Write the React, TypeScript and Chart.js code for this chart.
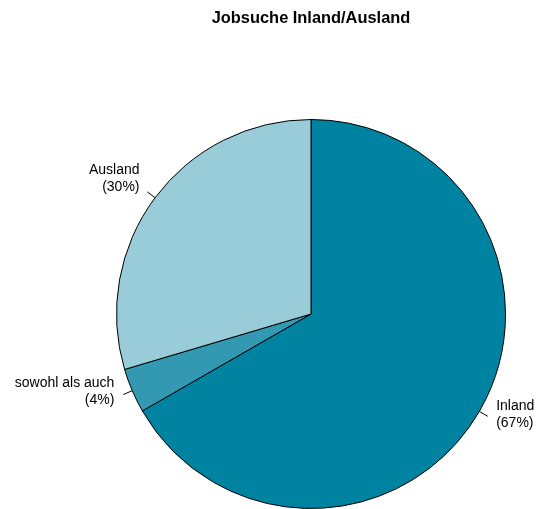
import React, { useEffect, useRef } from "react";
import { Chart, registerables } from "chart.js";

Chart.register(...registerables);

const title = "Jobsuche Inland/Ausland";
const categories = ["Inland", "sowohl als auch", "Ausland"];
const values = [66.7, 3.7, 29.6];
const colors = ["#0083a0", "#3399b3", "#99ccd9"];

const labelPlugin = {
  id: "pieLabels",
  afterDraw(chart: any) {
    const ctx = chart.ctx;
    const meta = chart.getDatasetMeta(0);
    const total = values.reduce((a, b) => a + b, 0);
    ctx.save();
    // title
    ctx.fillStyle = "#000";
    ctx.font = "bold 16.4px 'Liberation Sans', Arial, sans-serif";
    ctx.textAlign = "center";
    ctx.textBaseline = "middle";
    const ca = chart.chartArea;
    ctx.fillText(title, (ca.left + ca.right) / 2, 18);

    ctx.font = "14px 'Liberation Sans', Arial, sans-serif";
    ctx.strokeStyle = "#000";
    ctx.lineWidth = 1;
    meta.data.forEach((arc: any, i: number) => {
      const { x, y, startAngle, endAngle, outerRadius } = arc.getProps(
        ["x", "y", "startAngle", "endAngle", "outerRadius"],
        true
      );
      const mid = (startAngle + endAngle) / 2;
      const c = Math.cos(mid);
      const s = Math.sin(mid);
      ctx.beginPath();
      ctx.moveTo(x + outerRadius * c, y + outerRadius * s);
      ctx.lineTo(x + 1.05 * outerRadius * c, y + 1.05 * outerRadius * s);
      ctx.stroke();
      const tx = x + 1.1 * outerRadius * c;
      const ty = y + 1.1 * outerRadius * s;
      ctx.textAlign = c < 0 ? "right" : "left";
      ctx.textBaseline = "middle";
      const pct = Math.round((values[i] / total) * 100);
      ctx.fillText(categories[i], tx, ty - 15.5);
      ctx.fillText("(" + pct + "%)", tx, ty + 1.5);
    });
    ctx.restore();
  },
};

export default function App() {
  const ref = useRef<HTMLCanvasElement | null>(null);
  useEffect(() => {
    if (!ref.current) return;
    const chart = new Chart(ref.current, {
      type: "pie",
      data: {
        labels: categories,
        datasets: [
          {
            data: values,
            backgroundColor: colors,
            borderColor: "#000",
            borderWidth: 1,
          },
        ],
      },
      options: {
        responsive: false,
        animation: false,
        events: [],
        layout: { padding: { left: 116, right: 31, top: 119, bottom: 0 } },
        plugins: {
          legend: { display: false },
          tooltip: { enabled: false },
          title: { display: false },
        },
      },
      plugins: [labelPlugin],
    });
    return () => chart.destroy();
  }, []);
  return (
    <div style={{ position: "fixed", left: 0, top: 0, width: 537, height: 509, background: "#fff" }}>
      <canvas ref={ref} width={537} height={509} style={{ width: 537, height: 509 }} />
    </div>
  );
}
